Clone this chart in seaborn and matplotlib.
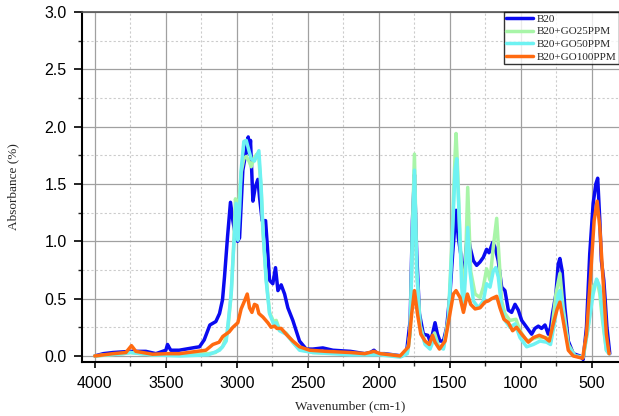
# ftir_spectra.py
# FTIR absorbance spectra of B20 blends with GO nanoparticles

import pandas as pd
import matplotlib.pyplot as plt
import seaborn as sns
from matplotlib.ticker import MultipleLocator

# --- spectra (wavenumber in cm-1, absorbance) ---
wn_b20 = [4000, 3940, 3871, 3750, 3640, 3570, 3500, 3488, 3475, 3465, 3406, 3289, 3263,
          3230, 3190, 3148, 3122, 3101, 3087, 3065, 3045, 3028, 3010, 2995, 2981, 2958,
          2934, 2920, 2911, 2904, 2887, 2871, 2852, 2840, 2822, 2798, 2785, 2770, 2747,
          2728, 2711, 2688, 2664, 2641, 2606, 2559, 2512, 2465, 2395, 2324, 2200, 2100,
          2060, 2035, 2010, 1960, 1898, 1839, 1804, 1780, 1764, 1750, 1734, 1715, 1687,
          1656, 1640, 1623, 1605, 1588, 1570, 1546, 1523, 1500, 1481, 1457, 1441, 1424,
          1410, 1394, 1375, 1359, 1335, 1312, 1288, 1265, 1242, 1225, 1199, 1183, 1160,
          1136, 1113, 1089, 1066, 1042, 1019, 995, 960, 925, 902, 878, 855, 831, 808, 792,
          778, 754, 738, 726, 710, 691, 667, 632, 585, 562, 539, 516, 492, 473, 460, 445,
          434, 417, 408, 395, 375]
abs_b20 = [0.0, 0.02, 0.03, 0.04, 0.04, 0.02, 0.05, 0.10, 0.07, 0.05, 0.05, 0.075, 0.08,
           0.14, 0.27, 0.30, 0.37, 0.49, 0.69, 1.05, 1.34, 1.18, 1.05, 1.0, 1.03, 1.62,
           1.79, 1.91, 1.76, 1.88, 1.35, 1.47, 1.54, 1.38, 1.18, 1.18, 0.95, 0.66, 0.63,
           0.77, 0.57, 0.62, 0.54, 0.42, 0.31, 0.13, 0.06, 0.06, 0.07, 0.05, 0.04, 0.02,
           0.03, 0.05, 0.02, 0.02, 0.01, 0.0, 0.05, 0.31, 1.18, 1.58, 0.89, 0.37, 0.19,
           0.18, 0.13, 0.19, 0.29, 0.19, 0.13, 0.13, 0.25, 0.54, 0.89, 1.27, 1.03, 0.89,
           0.66, 0.83, 1.09, 0.95, 0.83, 0.79, 0.82, 0.86, 0.93, 0.90, 0.99, 0.95, 0.83,
           0.60, 0.57, 0.40, 0.38, 0.45, 0.40, 0.31, 0.25, 0.19, 0.24, 0.26, 0.24, 0.27,
           0.19, 0.25, 0.37, 0.54, 0.80, 0.85, 0.74, 0.42, 0.13, 0.02, 0.0, -0.03, 0.25,
           0.89, 1.33, 1.50, 1.55, 1.18, 0.83, 0.66, 0.50, 0.25, 0.02]

wn_go25 = [4000, 3800, 3750, 3600, 3400, 3200, 3150, 3101, 3066, 3040, 3021, 3010, 2995,
           2985, 2970, 2951, 2934, 2915, 2899, 2880, 2860, 2845, 2829, 2817, 2794, 2770,
           2742, 2723, 2700, 2653, 2606, 2559, 2465, 2200, 2000, 1850, 1800, 1780, 1764,
           1750, 1734, 1710, 1675, 1640, 1609, 1581, 1546, 1511, 1488, 1464, 1457, 1445,
           1429, 1405, 1389, 1375, 1354, 1323, 1288, 1265, 1242, 1218, 1195, 1171, 1153,
           1136, 1113, 1078, 1035, 1007, 960, 890, 820, 792, 754, 726, 703, 667, 620, 562,
           527, 492, 464, 445, 434, 425, 399, 380]
abs_go25 = [0.0, 0.02, 0.03, 0.01, 0.01, 0.02, 0.03, 0.08, 0.20, 0.54, 1.0, 1.37, 1.25,
            1.35, 1.60, 1.72, 1.74, 1.70, 1.65, 1.72, 1.76, 1.72, 1.45, 1.10, 0.68, 0.38,
            0.30, 0.31, 0.23, 0.20, 0.12, 0.06, 0.03, 0.02, 0.02, 0.0, 0.03, 0.2, 1.1,
            1.76, 0.75, 0.27, 0.11, 0.08, 0.20, 0.09, 0.07, 0.33, 0.95, 1.75, 1.94, 1.6,
            1.0, 0.48, 0.85, 1.47, 0.74, 0.54, 0.51, 0.60, 0.76, 0.66, 0.95, 1.20, 0.83,
            0.48, 0.37, 0.31, 0.32, 0.22, 0.13, 0.16, 0.16, 0.13, 0.54, 0.72, 0.42, 0.10,
            0.0, -0.01, 0.25, 0.60, 0.66, 0.54, 0.40, 0.30, 0.05, 0.02]

wn_go50 = [4000, 3800, 3750, 3600, 3400, 3200, 3122, 3101, 3075, 3040, 3021, 3005, 2993,
           2980, 2970, 2951, 2934, 2915, 2899, 2876, 2845, 2829, 2817, 2794, 2770, 2742,
           2723, 2700, 2653, 2606, 2559, 2465, 2200, 2000, 1850, 1800, 1780, 1764, 1750,
           1734, 1710, 1675, 1640, 1609, 1581, 1546, 1511, 1488, 1464, 1452, 1434, 1417,
           1405, 1389, 1375, 1359, 1335, 1300, 1265, 1242, 1218, 1195, 1178, 1160, 1136,
           1113, 1078, 1042, 1007, 960, 913, 866, 820, 792, 761, 738, 726, 703, 667, 620,
           562, 527, 492, 468, 445, 422, 399, 380]
abs_go50 = [0.0, 0.02, 0.03, 0.01, 0.0, 0.01, 0.05, 0.08, 0.13, 0.54, 0.98, 1.33, 1.01,
            1.3, 1.62, 1.87, 1.88, 1.79, 1.72, 1.70, 1.79, 1.47, 1.12, 0.66, 0.37, 0.28,
            0.29, 0.22, 0.19, 0.12, 0.05, 0.03, 0.01, 0.01, -0.01, 0.02, 0.2, 1.03, 1.62,
            0.74, 0.25, 0.10, 0.06, 0.16, 0.08, 0.06, 0.31, 0.89, 1.62, 1.72, 1.18, 0.60,
            0.40, 0.74, 1.12, 0.74, 0.48, 0.42, 0.48, 0.63, 0.60, 0.74, 0.77, 0.69, 0.42,
            0.31, 0.25, 0.28, 0.16, 0.08, 0.10, 0.13, 0.12, 0.10, 0.31, 0.54, 0.57, 0.37,
            0.08, 0.0, -0.01, 0.25, 0.54, 0.67, 0.60, 0.31, 0.05, 0.02]

wn_go100 = [4000, 3871, 3781, 3742, 3711, 3594, 3488, 3406, 3218, 3169, 3125, 3099, 3054,
            3028, 2993, 2970, 2946, 2927, 2911, 2894, 2876, 2859, 2845, 2817, 2782, 2759,
            2735, 2718, 2688, 2653, 2606, 2559, 2488, 2371, 2200, 2100, 2035, 1991, 1851,
            1792, 1769, 1750, 1729, 1705, 1675, 1645, 1623, 1605, 1574, 1534, 1500, 1476,
            1457, 1429, 1405, 1377, 1354, 1323, 1288, 1253, 1230, 1206, 1171, 1148, 1120,
            1089, 1059, 1031, 995, 948, 913, 871, 831, 801, 773, 745, 726, 703, 667, 632,
            566, 539, 508, 485, 464, 445, 422, 399, 380]
abs_go100 = [0.0, 0.02, 0.03, 0.09, 0.04, 0.015, 0.02, 0.02, 0.05, 0.10, 0.12, 0.17, 0.21,
             0.25, 0.29, 0.41, 0.48, 0.54, 0.42, 0.38, 0.45, 0.44, 0.37, 0.34, 0.29, 0.25,
             0.26, 0.24, 0.24, 0.19, 0.13, 0.08, 0.05, 0.04, 0.03, 0.02, 0.04, 0.02, 0.0,
             0.08, 0.37, 0.57, 0.37, 0.19, 0.13, 0.10, 0.18, 0.12, 0.06, 0.13, 0.37, 0.54,
             0.57, 0.51, 0.38, 0.54, 0.45, 0.41, 0.42, 0.47, 0.48, 0.50, 0.52, 0.42, 0.32,
             0.29, 0.22, 0.25, 0.19, 0.12, 0.16, 0.18, 0.16, 0.13, 0.28, 0.41, 0.47, 0.31,
             0.05, 0.0, -0.02, 0.19, 0.74, 1.18, 1.35, 1.12, 0.66, 0.19, 0.02]

labels = ["B20", "B20+GO25PPM", "B20+GO50PPM", "B20+GO100PPM"]
colors = ["#0A0AF0", "#A8F5A8", "#6EF2F2", "#FF6A10"]

# build one long table for seaborn
frames = []
for lab, wn, ab in zip(labels, [wn_b20, wn_go25, wn_go50, wn_go100],
                       [abs_b20, abs_go25, abs_go50, abs_go100]):
    frames.append(pd.DataFrame({"wn": wn, "abs": ab, "sample": lab}))
df = pd.concat(frames, ignore_index=True)

sns.set_style("ticks")
plt.rcParams["font.family"] = ["Liberation Sans", "DejaVu Sans"]

fig = plt.figure(figsize=(6.19, 4.16), dpi=100)
ax = fig.add_axes([0.1325, 0.13, 0.8675, 0.8413])

sns.lineplot(data=df, x="wn", y="abs", hue="sample", hue_order=labels,
             palette=colors, sort=False, estimator=None, linewidth=2.5, ax=ax)

ax.set_xlim(4090, 310)
ax.set_ylim(-0.052, 3.0)
ax.xaxis.set_major_locator(MultipleLocator(500))
ax.xaxis.set_minor_locator(MultipleLocator(250))
ax.yaxis.set_major_locator(MultipleLocator(0.5))
ax.yaxis.set_minor_locator(MultipleLocator(0.25))
ax.yaxis.set_major_formatter(plt.FormatStrFormatter("%.1f"))

ax.grid(which="major", color="#a0a0a0", linewidth=0.9, linestyle="-")
ax.grid(which="minor", color="#cccccc", linewidth=0.8, linestyle=(0, (2, 2)))
ax.set_axisbelow(True)

for side in ["left", "bottom"]:
    ax.spines[side].set_color("black")
    ax.spines[side].set_linewidth(1.5)
ax.spines["top"].set_color("#555555")
ax.spines["top"].set_linewidth(1.2)
ax.spines["right"].set_visible(False)

ax.tick_params(which="major", direction="out", width=1.2, labelsize=11.5, colors="black")
ax.tick_params(axis="x", which="major", length=4, pad=6)
ax.tick_params(axis="y", which="major", length=6, pad=5)
ax.tick_params(which="minor", direction="out", length=3, width=1.0)

ax.set_xlabel("Wavenumber (cm-1)", family="Liberation Serif", fontsize=9.5, labelpad=7)
ax.set_ylabel("Absorbance (%)", family="Liberation Serif", fontsize=9.5, labelpad=18)

leg = ax.legend(loc="upper right", bbox_to_anchor=(1.0, 1.0), borderaxespad=0,
                frameon=True, fancybox=False, prop={"family": "Liberation Serif", "size": 8},
                handlelength=2.4, handletextpad=0.35, labelspacing=0.25, borderpad=0.2)
leg.get_frame().set_edgecolor("black")
leg.get_frame().set_linewidth(1.0)
for line in leg.get_lines():
    line.set_linewidth(2.5)

fig.savefig("out.png", dpi=100)
